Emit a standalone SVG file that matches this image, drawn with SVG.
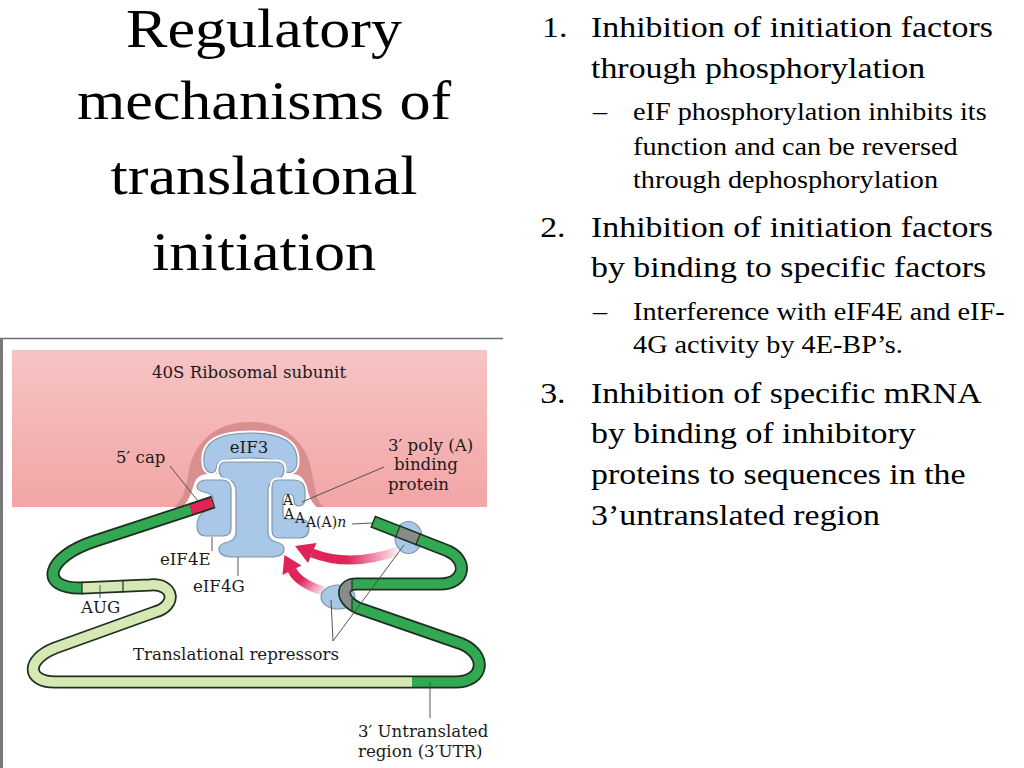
<svg xmlns="http://www.w3.org/2000/svg" width="1024" height="768" viewBox="0 0 1024 768">
<defs>
<style>
.big{font-family:"Liberation Serif","Times New Roman",serif;font-size:30px;fill:#000}
.sub{font-size:25px}
.ttl{font-family:"Liberation Serif","Times New Roman",serif;font-size:54px;fill:#000;text-anchor:middle}
.lbl{font-family:"DejaVu Serif","Liberation Serif",serif;font-size:16.6px;fill:#1a1a1a}
.aa{font-family:"DejaVu Serif","Liberation Serif",serif;font-size:14px;fill:#1a1a1a}
.prot{fill:#a9c7e6;stroke:#8296ad;stroke-width:1.2}
.halo{fill:none;stroke:#fff;stroke-width:5}
.ldr{fill:none;stroke:#444;stroke-width:0.9}
.tubeo{fill:none;stroke:#1f2f1f;stroke-width:13;stroke-linejoin:round}
.tube{fill:none;stroke-width:9.5;stroke-linejoin:round}
.sep{stroke:#1f2f1f;stroke-width:1.2}
</style>
<linearGradient id="pinkg" x1="0" y1="0" x2="0" y2="1">
<stop offset="0" stop-color="#f7c4c4"/><stop offset="1" stop-color="#f2a5a5"/>
</linearGradient>
<linearGradient id="ga1" gradientUnits="userSpaceOnUse" x1="400" y1="552" x2="312" y2="553">
<stop offset="0" stop-color="#e0245a" stop-opacity="0.05"/><stop offset="0.6" stop-color="#e0245a" stop-opacity="1"/>
</linearGradient>
<linearGradient id="ga2" gradientUnits="userSpaceOnUse" x1="324" y1="594" x2="292" y2="568">
<stop offset="0" stop-color="#e0245a" stop-opacity="0.05"/><stop offset="0.65" stop-color="#e0245a" stop-opacity="1"/>
</linearGradient>
<clipPath id="clipL"><rect x="325" y="575" width="27" height="45"/></clipPath>
</defs>
<rect width="1024" height="768" fill="#fff"/>

<g id="title">
<g transform="translate(264,0) scale(1.15,1)">
<text class="ttl" x="0" y="47">Regulatory</text>
<text class="ttl" x="0" y="119">mechanisms of</text>
<text class="ttl" x="0" y="194">translational</text>
<text class="ttl" x="0" y="270">initiation</text>
</g>
</g>

<g id="text-list" transform="scale(1.13,1)">
<text class="big" x="479.6" y="37">1.</text>
<text class="big" x="523" y="37">Inhibition of initiation factors</text>
<text class="big" x="523" y="78">through phosphorylation</text>
<text class="big sub" x="524.8" y="120">–</text>
<text class="big sub" x="560.2" y="120">eIF phosphorylation inhibits its</text>
<text class="big sub" x="560.2" y="155">function and can be reversed</text>
<text class="big sub" x="560.2" y="188">through dephosphorylation</text>
<text class="big" x="478" y="237">2.</text>
<text class="big" x="523" y="237">Inhibition of initiation factors</text>
<text class="big" x="523" y="277">by binding to specific factors</text>
<text class="big sub" x="524.8" y="320">–</text>
<text class="big sub" x="560.2" y="320">Interference with eIF4E and eIF-</text>
<text class="big sub" x="560.2" y="353">4G activity by 4E-BP’s.</text>
<text class="big" x="478" y="403">3.</text>
<text class="big" x="523" y="403">Inhibition of specific mRNA</text>
<text class="big" x="523" y="443">by binding of inhibitory</text>
<text class="big" x="523" y="484">proteins to sequences in the</text>
<text class="big" x="523" y="525">3’untranslated region</text>
</g>

<g id="figure">
<line x1="0" y1="338.5" x2="503" y2="338.5" stroke="#6e6e6e" stroke-width="1.5"/>
<line x1="1.5" y1="338" x2="1.5" y2="768" stroke="#777" stroke-width="3"/>

<g id="ribosome">
<rect x="12" y="350" width="475" height="157" fill="url(#pinkg)"/>
<path d="M 174 507 C 184 500 186 486 189 470 C 195 440 218 422 250 422 C 282 422 305 440 311 468 C 315 488 316 502 324 507 Z" fill="#d98f8f"/>
<path d="M 180 508 C 188 504 191 494 194 484 C 197 476 202 474 210 474 L 292 474 C 300 474 304 478 306 486 C 309 496 312 504 318 508 Z" fill="#fff"/>
</g>

<g id="eIF3">
<path class="halo" d="M 204 462 C 202 440 222 433 250 433 C 278 433 298 440 297 462 C 297 470 291 474 286 472 C 283 470 284 466 282 463 C 276 459 262 458 250 458 C 238 458 224 459 218 463 C 216 466 217 470 214 472 C 209 474 204 470 204 462 Z"/>
<path class="prot" d="M 204 462 C 202 440 222 433 250 433 C 278 433 298 440 297 462 C 297 470 291 474 286 472 C 283 470 284 466 282 463 C 276 459 262 458 250 458 C 238 458 224 459 218 463 C 216 466 217 470 214 472 C 209 474 204 470 204 462 Z"/>
</g>

<g id="eIF4G">
<path class="halo" d="M 226 462 L 276 462 Q 284 462 284 470 Q 284 478 275 480 Q 268 482 268 492 L 268 532 Q 268 540 276 542 Q 284 544 284 549 Q 284 557 270 557 L 234 557 Q 219 557 219 549 Q 219 544 228 542 Q 236 540 236 532 L 236 492 Q 236 482 229 480 Q 219 478 219 470 Q 219 462 226 462 Z"/>
<path class="prot" d="M 226 462 L 276 462 Q 284 462 284 470 Q 284 478 275 480 Q 268 482 268 492 L 268 532 Q 268 540 276 542 Q 284 544 284 549 Q 284 557 270 557 L 234 557 Q 219 557 219 549 Q 219 544 228 542 Q 236 540 236 532 L 236 492 Q 236 482 229 480 Q 219 478 219 470 Q 219 462 226 462 Z"/>
</g>

<g id="eIF4E">
<path class="halo" d="M 206 480 L 222 480 Q 230 480 231 488 L 231 528 Q 231 536 223 536 L 206 536 Q 197 536 197 526 Q 197 516 204 512 Q 210 509 213 506 L 213 497 Q 210 493 204 492 Q 197 490 197 487 Q 198 480 206 480 Z"/>
<path class="prot" d="M 206 480 L 222 480 Q 230 480 231 488 L 231 528 Q 231 536 223 536 L 206 536 Q 197 536 197 526 Q 197 516 204 512 Q 210 509 213 506 L 213 497 Q 210 493 204 492 Q 197 490 197 487 Q 198 480 206 480 Z"/>
</g>

<g id="PABP">
<path class="halo" d="M 278 480 L 293 480 Q 304 480 305 490 L 305 498 Q 305 506 299 506 Q 294 506 294 500 Q 294 494 288 494 Q 283 494 283 500 L 283 514 Q 283 519 289 519 L 300 519 Q 309 519 309 528 Q 309 538 299 538 L 279 538 Q 272 538 272 530 L 272 488 Q 272 480 278 480 Z"/>
<path class="prot" d="M 278 480 L 293 480 Q 304 480 305 490 L 305 498 Q 305 506 299 506 Q 294 506 294 500 Q 294 494 288 494 Q 283 494 283 500 L 283 514 Q 283 519 289 519 L 300 519 Q 309 519 309 528 Q 309 538 299 538 L 279 538 Q 272 538 272 530 L 272 488 Q 272 480 278 480 Z"/>
</g>

<g id="repressor-upper"><ellipse class="prot" cx="408.5" cy="537.5" rx="13.5" ry="16"/></g>
<g id="repressor-lower"><ellipse class="prot" cx="338" cy="597" rx="17" ry="12"/></g>

<g id="mRNA">
<path class="tubeo" d="M 213.4 502 L 191 509.5 L 95 541 C 45.6 557 38 589 82 588 L 150 585 C 175 583 177 606 155 612 L 55 648 C 25 660 27 682 55 682 L 455 682 C 485 682 487 655 462 644 L 358 608 C 340 600 340 583 358 584 L 440 584 C 466 584 468 560 448 551 L 372.6 521.5"/>
<path class="tube" stroke="#32a852" d="M 191 509.5 L 95 541 C 45.6 557 38 589 82 588"/>
<path class="tube" stroke="#d6e9b5" d="M 82 588 L 150 585 C 175 583 177 606 155 612 L 55 648 C 25 660 27 682 55 682 L 412 682"/>
<path class="tube" stroke="#32a852" d="M 412 682 L 455 682 C 485 682 487 655 462 644 L 358 608 C 340 600 340 583 358 584 L 440 584 C 466 584 468 560 448 551 L 374 522"/>
<path class="tube" stroke="#e0245a" d="M 212.5 502.3 L 191 509.5"/>
<path class="tube" stroke="#8a8a8a" d="M 418 539.2 L 398 531.4"/>
<path class="tube" stroke="#8a8a8a" clip-path="url(#clipL)" d="M 358 608 C 340 600 340 583 358 584"/>
<line class="sep" x1="420.4" y1="533.2" x2="415.6" y2="545.2"/>
<line class="sep" x1="400.4" y1="525.4" x2="395.6" y2="537.4"/>
<line class="sep" x1="352" y1="579.5" x2="352" y2="591"/>
<line class="sep" x1="352" y1="598.5" x2="352" y2="610.5"/>
<line class="sep" x1="82" y1="581.5" x2="82" y2="594.5"/>
<line class="sep" x1="123" y1="579.7" x2="123" y2="592.7"/>
</g>

<g id="connectors">
<path d="M 398 551 Q 350 568 312 553" fill="none" stroke="url(#ga1)" stroke-width="9"/>
<polygon points="295,546 316.5,543 308,563" fill="#e0245a"/>
<path d="M 323 591 Q 298 583 292 570" fill="none" stroke="url(#ga2)" stroke-width="9"/>
<polygon points="284.4,554.9 301.5,565.5 282.5,575" fill="#e0245a"/>
<line class="ldr" x1="170" y1="466" x2="198" y2="501"/>
<line class="ldr" x1="384" y1="467" x2="302" y2="502"/>
<line class="ldr" x1="352" y1="524" x2="372" y2="523"/>
<line class="ldr" x1="212" y1="537" x2="212" y2="551"/>
<line class="ldr" x1="238" y1="557" x2="238" y2="576"/>
<line class="ldr" x1="100" y1="585" x2="100" y2="598"/>
<line class="ldr" x1="333" y1="641" x2="331" y2="600"/>
<line class="ldr" x1="333" y1="641" x2="404" y2="545"/>
<line class="ldr" x1="430" y1="682" x2="430" y2="718"/>
</g>

<g id="labels">
<text class="lbl" x="152" y="378">40S Ribosomal subunit</text>
<text class="lbl" x="116" y="463">5′ cap</text>
<text class="lbl" x="249" y="453" text-anchor="middle">eIF3</text>
<text class="lbl" x="388" y="451">3′ poly (A)</text>
<text class="lbl" x="394" y="470">binding</text>
<text class="lbl" x="388" y="490">protein</text>
<text class="aa"><tspan x="283" y="505">A</tspan><tspan x="284" y="519">A</tspan><tspan x="295" y="523">A</tspan><tspan x="306" y="527">A(A)</tspan><tspan font-style="italic">n</tspan></text>
<text class="lbl" x="160" y="565">eIF4E</text>
<text class="lbl" x="193" y="592">eIF4G</text>
<text class="lbl" x="81" y="613">AUG</text>
<text class="lbl" x="133" y="660">Translational repressors</text>
<text class="lbl" x="358" y="737">3′ Untranslated</text>
<text class="lbl" x="358" y="757">region (3′UTR)</text>
</g>
</g>
</svg>
